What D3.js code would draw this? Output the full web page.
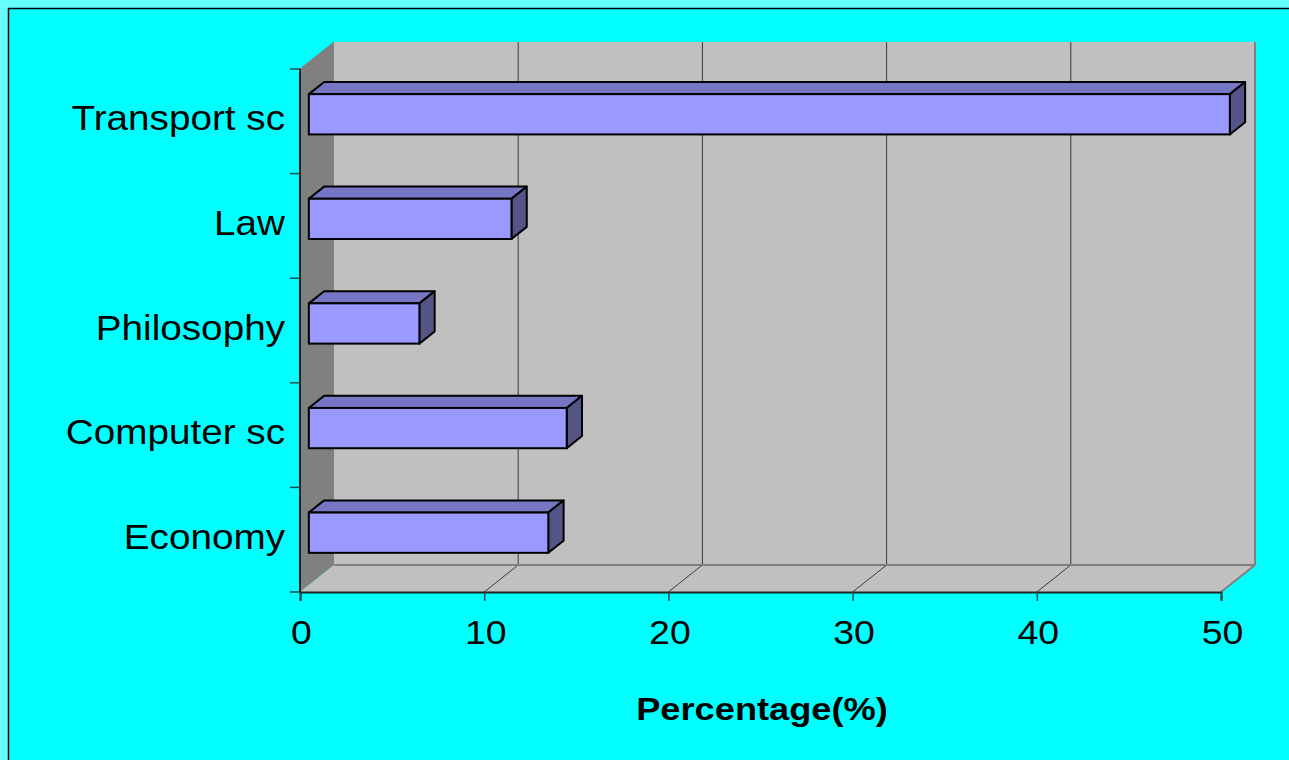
<!DOCTYPE html>
<html>
<head>
<meta charset="utf-8">
<script src="https://cdn.jsdelivr.net/npm/d3@7"></script>
<style>
  html, body { margin: 0; padding: 0; background: #00FFFF; }
  svg { display: block; }
  text { font-family: "Liberation Sans", Arial, sans-serif; fill: #000; }
</style>
</head>
<body>
<svg id="chart" width="1289" height="760"></svg>
<script>
// Share of each field, in percent
const categories = ["Transport sc", "Law", "Philosophy", "Computer sc", "Economy"];
const values = [50, 11, 6, 14, 13];
const xTicks = [0, 10, 20, 30, 40, 50];
const axisTitle = "Percentage(%)";

const W = 1289, H = 760;
const svg = d3.select("#chart");

// Frame: light strip on top/left, black border line
svg.append("rect").attr("x", 0).attr("y", 0).attr("width", W).attr("height", H).attr("fill", "#66FFFF");
svg.append("rect").attr("x", 8.5).attr("y", 8.5).attr("width", W + 20).attr("height", H + 20)
  .attr("fill", "#00FFFF").attr("stroke", "#000").attr("stroke-width", 1.5);

// Front plane of the plot and 3D depth
const plotL = 300, plotR = 1221, plotT = 69, plotB = 592;
const depth = { dx: 34, dy: -27 };

const x = d3.scaleLinear().domain([0, 50]).range([plotL, plotR]);
const y = d3.scaleBand().domain(categories).range([plotT, plotB]).padding(0);

const g = svg.append("g");
const pts = a => a.map(p => p.join(",")).join(" ");

// Back wall
g.append("polygon")
  .attr("points", pts([[plotL + depth.dx, plotT + depth.dy], [plotR + depth.dx, plotT + depth.dy],
                       [plotR + depth.dx, plotB + depth.dy], [plotL + depth.dx, plotB + depth.dy]]))
  .attr("fill", "#C0C0C0");
// Left side wall
g.append("polygon")
  .attr("points", pts([[plotL, plotT], [plotL + depth.dx, plotT + depth.dy],
                       [plotL + depth.dx, plotB + depth.dy], [plotL, plotB]]))
  .attr("fill", "#808080");
// Floor
g.append("polygon")
  .attr("points", pts([[plotL, plotB], [plotL + depth.dx, plotB + depth.dy],
                       [plotR + depth.dx, plotB + depth.dy], [plotR, plotB]]))
  .attr("fill", "#C0C0C0");

// Gridlines on wall and floor
xTicks.filter(t => t > 0 && t < 50).forEach(t => {
  g.append("line")
    .attr("x1", x(t) + depth.dx).attr("x2", x(t) + depth.dx)
    .attr("y1", plotT + depth.dy).attr("y2", plotB + depth.dy)
    .attr("stroke", "#3a3a3a").attr("stroke-width", 1);
  g.append("line")
    .attr("x1", x(t)).attr("y1", plotB)
    .attr("x2", x(t) + depth.dx).attr("y2", plotB + depth.dy)
    .attr("stroke", "#3a3a3a").attr("stroke-width", 1);
});

// Wall edges
g.append("line").attr("x1", plotL + depth.dx).attr("x2", plotR + depth.dx)
  .attr("y1", plotB + depth.dy).attr("y2", plotB + depth.dy)
  .attr("stroke", "#808080").attr("stroke-width", 2);
g.append("line").attr("x1", plotR + depth.dx).attr("x2", plotR + depth.dx)
  .attr("y1", plotT + depth.dy).attr("y2", plotB + depth.dy)
  .attr("stroke", "#808080").attr("stroke-width", 2);
g.append("line").attr("x1", plotR).attr("y1", plotB)
  .attr("x2", plotR + depth.dx).attr("y2", plotB + depth.dy)
  .attr("stroke", "#808080").attr("stroke-width", 2);
g.append("line").attr("x1", plotL).attr("y1", plotT)
  .attr("x2", plotL + depth.dx).attr("y2", plotT + depth.dy)
  .attr("stroke", "#808080").attr("stroke-width", 1);

// Bars as boxes placed in the middle of the depth
const f1 = 0.26, f2 = 0.71;
const barH = y.bandwidth() * 0.385;
const bars = g.selectAll("g.bar").data(categories.map((c, i) => ({ c, v: values[i] })))
  .enter().append("g").attr("class", "bar");

bars.each(function(d) {
  const sel = d3.select(this);
  const fx = depth.dx * f1, fy = depth.dy * f1;
  const bx = depth.dx * (f2 - f1), by = depth.dy * (f2 - f1);
  const x0 = x(0) + fx, x1 = x(d.v) + fx;
  const yc = y(d.c) + y.bandwidth() / 2 + fy;
  const y0 = yc - barH / 2, y1 = yc + barH / 2;
  // top face
  sel.append("polygon")
    .attr("points", pts([[x0, y0], [x0 + bx, y0 + by], [x1 + bx, y0 + by], [x1, y0]]))
    .attr("fill", "#7676C4").attr("stroke", "#000").attr("stroke-width", 2).attr("stroke-linejoin", "round");
  // side face
  sel.append("polygon")
    .attr("points", pts([[x1, y0], [x1 + bx, y0 + by], [x1 + bx, y1 + by], [x1, y1]]))
    .attr("fill", "#545487").attr("stroke", "#000").attr("stroke-width", 2).attr("stroke-linejoin", "round");
  // front face
  sel.append("rect")
    .attr("x", x0).attr("y", y0).attr("width", x1 - x0).attr("height", y1 - y0)
    .attr("fill", "#9999FF").attr("stroke", "#000").attr("stroke-width", 2);
});

// Value axis
const xAxis = d3.axisBottom(x).tickValues(xTicks).tickSize(9).tickFormat(d3.format("d"));
const xg = svg.append("g").attr("transform", `translate(0,${plotB})`).call(xAxis);
xg.select(".domain").attr("stroke", "#222").attr("stroke-width", 2);
xg.selectAll(".tick line").attr("stroke", "#1a4d4d").attr("stroke-width", 1.5);
xg.selectAll(".tick text")
  .attr("y", 0).attr("dy", 0)
  .attr("font-size", 34).attr("fill", "#000")
  .attr("transform", "translate(1,52) scale(1.1,1)")
  .style("font-family", "'Liberation Sans', Arial, sans-serif");

// Category axis: ticks at band boundaries
const yBounds = categories.map(c => y(c)).concat([plotB]);
const yg = svg.append("g");
yg.append("line").attr("x1", plotL).attr("x2", plotL).attr("y1", plotT).attr("y2", plotB)
  .attr("stroke", "#222").attr("stroke-width", 2);
yg.selectAll("line.tk").data(yBounds).enter().append("line").attr("class", "tk")
  .attr("x1", plotL - 10).attr("x2", plotL).attr("y1", d => d).attr("y2", d => d)
  .attr("stroke", "#1a4d4d").attr("stroke-width", 1.5);
yg.selectAll("text").data(categories).enter().append("text")
  .attr("transform", d => `translate(285,${y(d) + y.bandwidth() / 2 + 9}) scale(1.075,1)`)
  .attr("text-anchor", "end")
  .attr("font-size", 36)
  .text(d => d);

// Axis title
svg.append("text")
  .attr("transform", "translate(762,720) scale(1.15,1)")
  .attr("text-anchor", "middle")
  .attr("font-size", 31.5).attr("font-weight", "bold")
  .text(axisTitle);
</script>
</body>
</html>
